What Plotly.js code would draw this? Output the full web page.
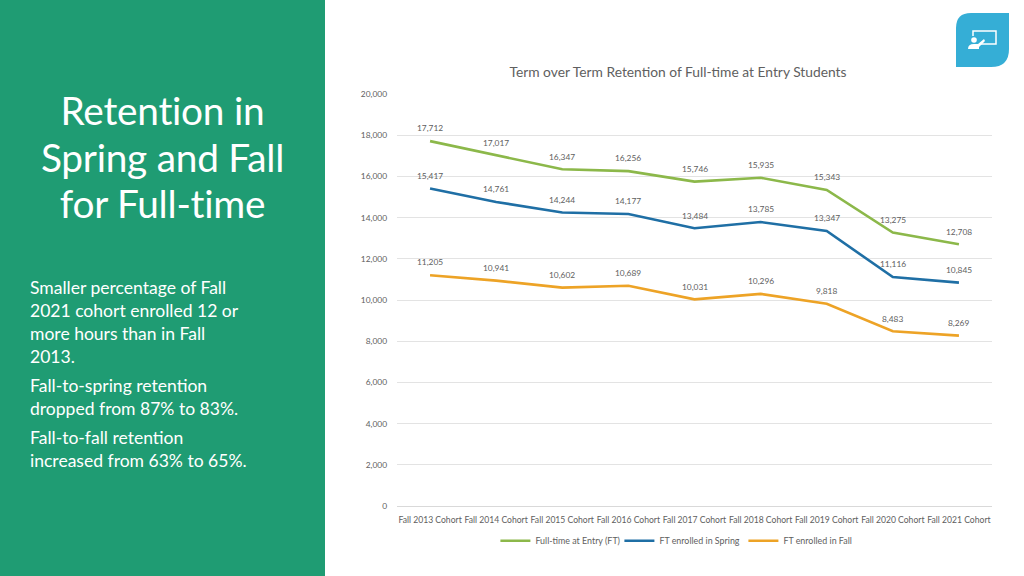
<!DOCTYPE html>
<html><head><meta charset="utf-8">
<script src="https://cdn.plot.ly/plotly-3.0.1.min.js"></script>
<style>
html,body{margin:0;padding:0;background:#fff;width:1024px;height:576px;overflow:hidden;font-family:Lato,"Open Sans",sans-serif}
#panel{position:absolute;left:0;top:0;width:325px;height:576px;background:#1f9c73;color:#fff}
#head{position:absolute;left:0;top:87px;width:325px;text-align:center;font-size:38.8px;line-height:46.5px;letter-spacing:-.25px}
.p{position:absolute;left:30px;font-size:17.55px;line-height:23px;color:#fff}
#chart{position:absolute;left:0;top:0;width:1024px;height:576px}
#icon{position:absolute;left:956px;top:13px}
</style></head><body>
<div id="chart"></div>
<div id="panel">
<div id="head">Retention in<br>Spring and Fall<br>for Full-time</div>
<div class="p" style="top:276px">Smaller percentage of Fall<br>2021 cohort enrolled 12 or<br>more hours than in Fall<br>2013.</div>
<div class="p" style="top:374px">Fall-to-spring retention<br>dropped from 87% to 83%.</div>
<div class="p" style="top:426px">Fall-to-fall retention<br>increased from 63% to 65%.</div>
</div>
<svg id="icon" width="54" height="54" viewBox="0 0 54 54">
<path d="M15 0H53V36Q53 54 35 54H0V15Q0 0 15 0Z" fill="#35aed6"/>
<path d="M17 23V18H40V31H25" fill="none" stroke="#fff" stroke-width="1.5"/>
<circle cx="18" cy="27" r="2.8" fill="#fff"/>
<path d="M12 36Q12 31 18 31L22 31L28 26L29 28L23 34V36Z" fill="#fff"/>
</svg>
<script>
var categories=["Fall 2013 Cohort","Fall 2014 Cohort","Fall 2015 Cohort","Fall 2016 Cohort","Fall 2017 Cohort","Fall 2018 Cohort","Fall 2019 Cohort","Fall 2020 Cohort","Fall 2021 Cohort"];
var fullTime=[17712,17017,16347,16256,15746,15935,15343,13275,12708];
var enrolledSpring=[15417,14761,14244,14177,13484,13785,13347,11116,10845];
var enrolledFall=[11205,10941,10602,10689,10031,10296,9818,8483,8269];
var tickVals=[0,2000,4000,6000,8000,10000,12000,14000,16000,18000,20000];
var textCol="#606060";
var fam="Lato, sans-serif";
function tr(name,y,c){return{type:"scatter",mode:"lines",name:name,x:categories,y:y,
 line:{color:c,width:2.6,shape:"linear"},hoverinfo:"skip"};}
function labels(y){return y.map(function(v,i){return{xref:"x",yref:"y",x:categories[i],y:v,text:v.toLocaleString("en-US"),showarrow:false,yshift:12.7,yanchor:"middle",xanchor:"center",font:{family:fam,size:8.4,color:textCol}};});}
Plotly.newPlot("chart",[
 tr("Full-time at Entry (FT)",fullTime,"#8cb84a"),
 tr("FT enrolled in Spring",enrolledSpring,"#1f6fa5"),
 tr("FT enrolled in Fall",enrolledFall,"#eda326")
],{
 width:1024,height:576,margin:{l:397,r:32,t:94,b:70},
 paper_bgcolor:"rgba(0,0,0,0)",plot_bgcolor:"rgba(0,0,0,0)",
 font:{family:fam,size:9,color:textCol},
 title:{text:"Term over Term Retention of Full-time at Entry Students",font:{family:fam,size:13.8,color:textCol},x:678/1024,xref:"container",xanchor:"center",y:0.875,yanchor:"middle"},
 xaxis:{type:"category",tickfont:{size:8.6,color:textCol},showgrid:false,showline:false,zeroline:false,ticks:"",ticklen:0,tickangle:0,automargin:false,range:[-0.5,8.5],ticklabelstandoff:7},
 yaxis:{range:[0,20000],tickvals:tickVals,tickformat:",d",tickfont:{size:8.4,color:textCol},gridcolor:"#e3e3e3",gridwidth:1,zeroline:true,zerolinecolor:"#d9d9d9",zerolinewidth:1,showline:false,ticks:"",automargin:false,ticklabelstandoff:9},
 annotations:labels(fullTime).concat(labels(enrolledSpring),labels(enrolledFall)),
 showlegend:true,
 legend:{orientation:"h",x:0.478,xanchor:"center",y:-0.049,yanchor:"top",font:{size:8.9,color:textCol},itemwidth:30,entrywidth:79,traceorder:"normal"}
},{displayModeBar:false,staticPlot:true});
</script></body></html>
